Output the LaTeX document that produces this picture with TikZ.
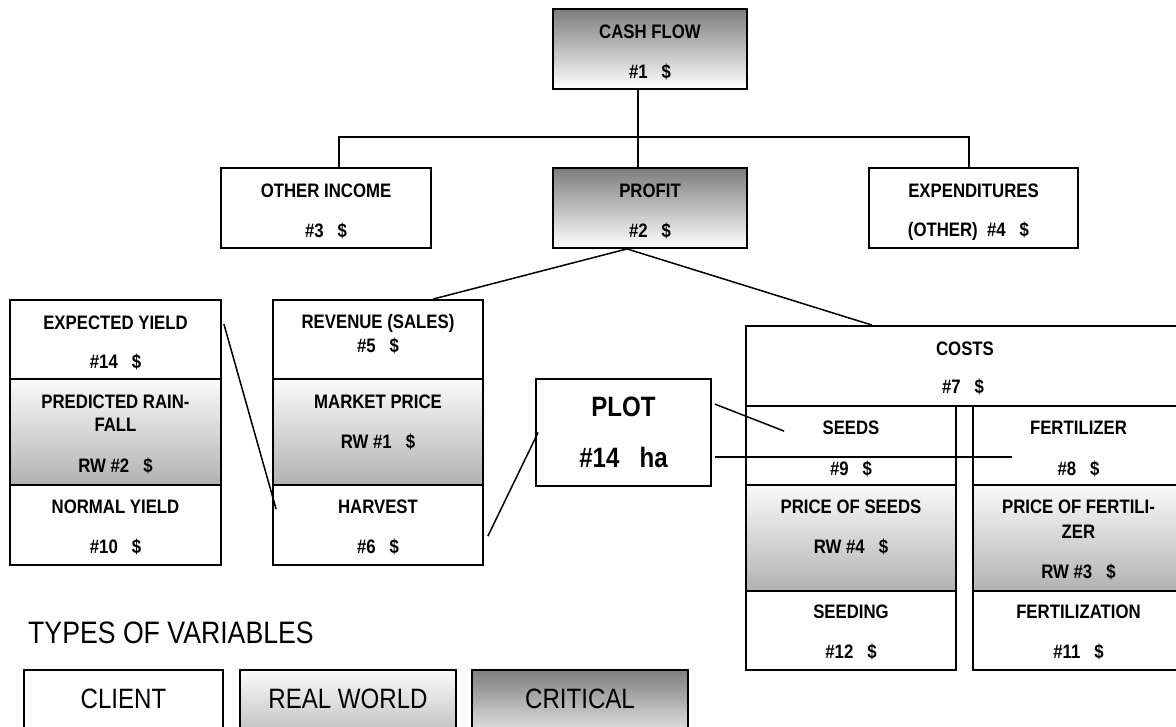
\documentclass[tikz,border=0pt]{standalone}
\usepackage{fontspec}
\setmainfont[FakeStretch=0.86]{Liberation Sans}
\definecolor{critTop}{RGB}{125,125,125}
\definecolor{rwTop}{RGB}{250,250,250}
\definecolor{rwBot}{RGB}{178,178,178}
\begin{document}
\begin{tikzpicture}[x=1pt,y=-1pt,
  box/.style={draw=black, line width=1.8pt, inner sep=0pt},
  sz/.style 2 args={minimum width=#1pt, minimum height=#2pt},
  crit/.style={top color=critTop, bottom color=white},
  rw/.style={top color=rwTop, bottom color=rwBot},
  conn/.style={draw=black, line width=1.5pt},
  lbl/.style={inner sep=0pt, font=\fontsize{19.5}{22}\selectfont\bfseries},
  big/.style={inner sep=0pt, font=\fontsize{28}{32}\selectfont\bfseries},
  leg/.style={inner sep=0pt, font=\fontsize{28}{32}\selectfont},
  legt/.style={inner sep=0pt, font=\fontsize{31}{35}\selectfont},
]
\useasboundingbox[fill=white] (0,0) rectangle (1176,726);

% boxes
\node[box,crit,sz={194}{80}] (cf) at (650,49) {};
\node[box,crit,sz={194}{80}] (pf) at (650,208) {};
\node[box,sz={210}{80}] (oi) at (326,208) {};
\node[box,sz={209}{80}] (ex) at (973.5,208) {};
\node[box,sz={211}{79}] (ey) at (115.5,339.5) {};
\node[box,rw,sz={211}{106}] (pr) at (115.5,432) {};
\node[box,sz={211}{80}] (ny) at (115.5,525) {};
\node[box,sz={210}{79}] (rev) at (378,339.5) {};
\node[box,rw,sz={210}{106}] (mp) at (378,432) {};
\node[box,sz={210}{80}] (hv) at (378,525) {};
\node[box,sz={175}{107}] (plot) at (623.5,432.5) {};
\node[box,sz={438}{80}] (costs) at (965,366) {};
\node[box,sz={210}{79}] (sd) at (851,445.5) {};
\node[box,rw,sz={210}{106}] (pos) at (851,538) {};
\node[box,sz={210}{79}] (sdg) at (851,630.5) {};
\node[box,sz={211}{79}] (ft) at (1078.5,445.5) {};
\node[box,rw,sz={211}{106}] (pof) at (1078.5,538) {};
\node[box,sz={211}{79}] (fz) at (1078.5,630.5) {};
\node[box,sz={199}{80}] (lc) at (123.5,710) {};
\node[box,rw,sz={216}{80}] (lr) at (348,710) {};
\node[box,crit,sz={216}{80}] (lk) at (580,710) {};

% connectors
\coordinate (hl) at ([xshift=13pt,yshift=30pt]oi.north);
\coordinate (hr) at ([xshift=-4.5pt,yshift=30pt]ex.north);
\draw[conn] ([xshift=13pt]oi.north) -- (hl) -- (hr) -- ([xshift=-4.5pt]ex.north);
\draw[conn] ([xshift=-12pt]cf.south) -- ([xshift=-12pt]pf.north);
\coordinate (pfb) at ([xshift=-23pt]pf.south);
\draw[conn] (pfb) -- ([xshift=55pt]rev.north);
\draw[conn] (pfb) -- ([xshift=-93pt]costs.north);
\draw[conn] ([xshift=2pt,yshift=-25pt]ey.north east) -- ([xshift=4pt,yshift=-25pt]hv.north west);
\draw[conn] ([xshift=4pt,yshift=-52pt]hv.north east) -- ([xshift=3pt]plot.west);
\draw[conn] ([xshift=3pt,yshift=-26pt]plot.north east) -- ([xshift=39pt,yshift=-26pt]sd.north west);
\draw[conn] ([xshift=3pt,yshift=-79pt]plot.north east) -- ([xshift=39.5pt,yshift=-52pt]ft.north west);

% texts
\node[lbl] (cf-a) at ([yshift=-24pt]cf.north) {CASH FLOW};
\node[lbl] (cf-b) at ([yshift=-64pt]cf.north) {\#1~~~\$};
\node[lbl] (pf-a) at ([yshift=-24pt]pf.north) {PROFIT};
\node[lbl] (pf-b) at ([yshift=-64pt]pf.north) {\#2~~~\$};
\node[lbl] (oi-a) at ([yshift=-24pt]oi.north) {OTHER INCOME};
\node[lbl] (oi-b) at ([yshift=-64pt]oi.north) {\#3~~~\$};
\node[lbl] (ex-a) at ([yshift=-24pt]ex.north) {EXPENDITURES};
\node[lbl] (ex-b) at ([yshift=-64pt,xshift=-5pt]ex.north) {(OTHER)~~\#4~~~\$};

\node[lbl] (ey-a) at ([yshift=-24pt]ey.north) {EXPECTED YIELD};
\node[lbl] (ey-b) at ([yshift=-63pt]ey.north) {\#14~~~\$};
\node[lbl] (pr-a) at ([yshift=-24pt]pr.north) {PREDICTED RAIN-};
\node[lbl] (pr-b) at ([yshift=-47pt]pr.north) {FALL};
\node[lbl] (pr-c) at ([yshift=-88pt]pr.north) {RW \#2~~~\$};
\node[lbl] (ny-a) at ([yshift=-23pt]ny.north) {NORMAL YIELD};
\node[lbl] (ny-b) at ([yshift=-63pt]ny.north) {\#10~~~\$};

\node[lbl] (rev-a) at ([yshift=-24pt]rev.north) {REVENUE (SALES)};
\node[lbl] (rev-b) at ([yshift=-47pt]rev.north) {\#5~~~\$};
\node[lbl] (mp-a) at ([yshift=-24pt]mp.north) {MARKET PRICE};
\node[lbl] (mp-b) at ([yshift=-64pt]mp.north) {RW \#1~~~\$};
\node[lbl] (hv-a) at ([yshift=-23pt]hv.north) {HARVEST};
\node[lbl] (hv-b) at ([yshift=-63pt]hv.north) {\#6~~~\$};

\node[big] (plot-a) at ([yshift=-29pt]plot.north) {PLOT};
\node[big] (plot-b) at ([yshift=-79pt]plot.north) {\#14~~~ha};

\node[lbl] (costs-a) at ([yshift=-24pt]costs.north) {COSTS};
\node[lbl] (costs-b) at ([yshift=-62pt,xshift=-2pt]costs.north) {\#7~~~\$};
\node[lbl] (sd-a) at ([yshift=-23pt]sd.north) {SEEDS};
\node[lbl] (sd-b) at ([yshift=-64pt]sd.north) {\#9~~~\$};
\node[lbl] (pos-a) at ([yshift=-23pt]pos.north) {PRICE OF SEEDS};
\node[lbl] (pos-b) at ([yshift=-63pt]pos.north) {RW \#4~~~\$};
\node[lbl] (sdg-a) at ([yshift=-22pt]sdg.north) {SEEDING};
\node[lbl] (sdg-b) at ([yshift=-62pt]sdg.north) {\#12~~~\$};
\node[lbl] (ft-a) at ([yshift=-23pt]ft.north) {FERTILIZER};
\node[lbl] (ft-b) at ([yshift=-64pt]ft.north) {\#8~~~\$};
\node[lbl] (pof-a) at ([yshift=-23pt]pof.north) {PRICE OF FERTILI-};
\node[lbl] (pof-b) at ([yshift=-48pt]pof.north) {ZER};
\node[lbl] (pof-c) at ([yshift=-88pt]pof.north) {RW \#3~~~\$};
\node[lbl] (fz-a) at ([yshift=-22pt]fz.north) {FERTILIZATION};
\node[lbl] (fz-b) at ([yshift=-62pt]fz.north) {\#11~~~\$};

\node[legt, anchor=west] (lt) at (28,633) {TYPES OF VARIABLES};
\node[leg] (lc-a) at ([yshift=-30pt]lc.north) {CLIENT};
\node[leg] (lr-a) at ([yshift=-30pt]lr.north) {REAL WORLD};
\node[leg] (lk-a) at ([yshift=-30pt]lk.north) {CRITICAL};
\end{tikzpicture}
\end{document}
